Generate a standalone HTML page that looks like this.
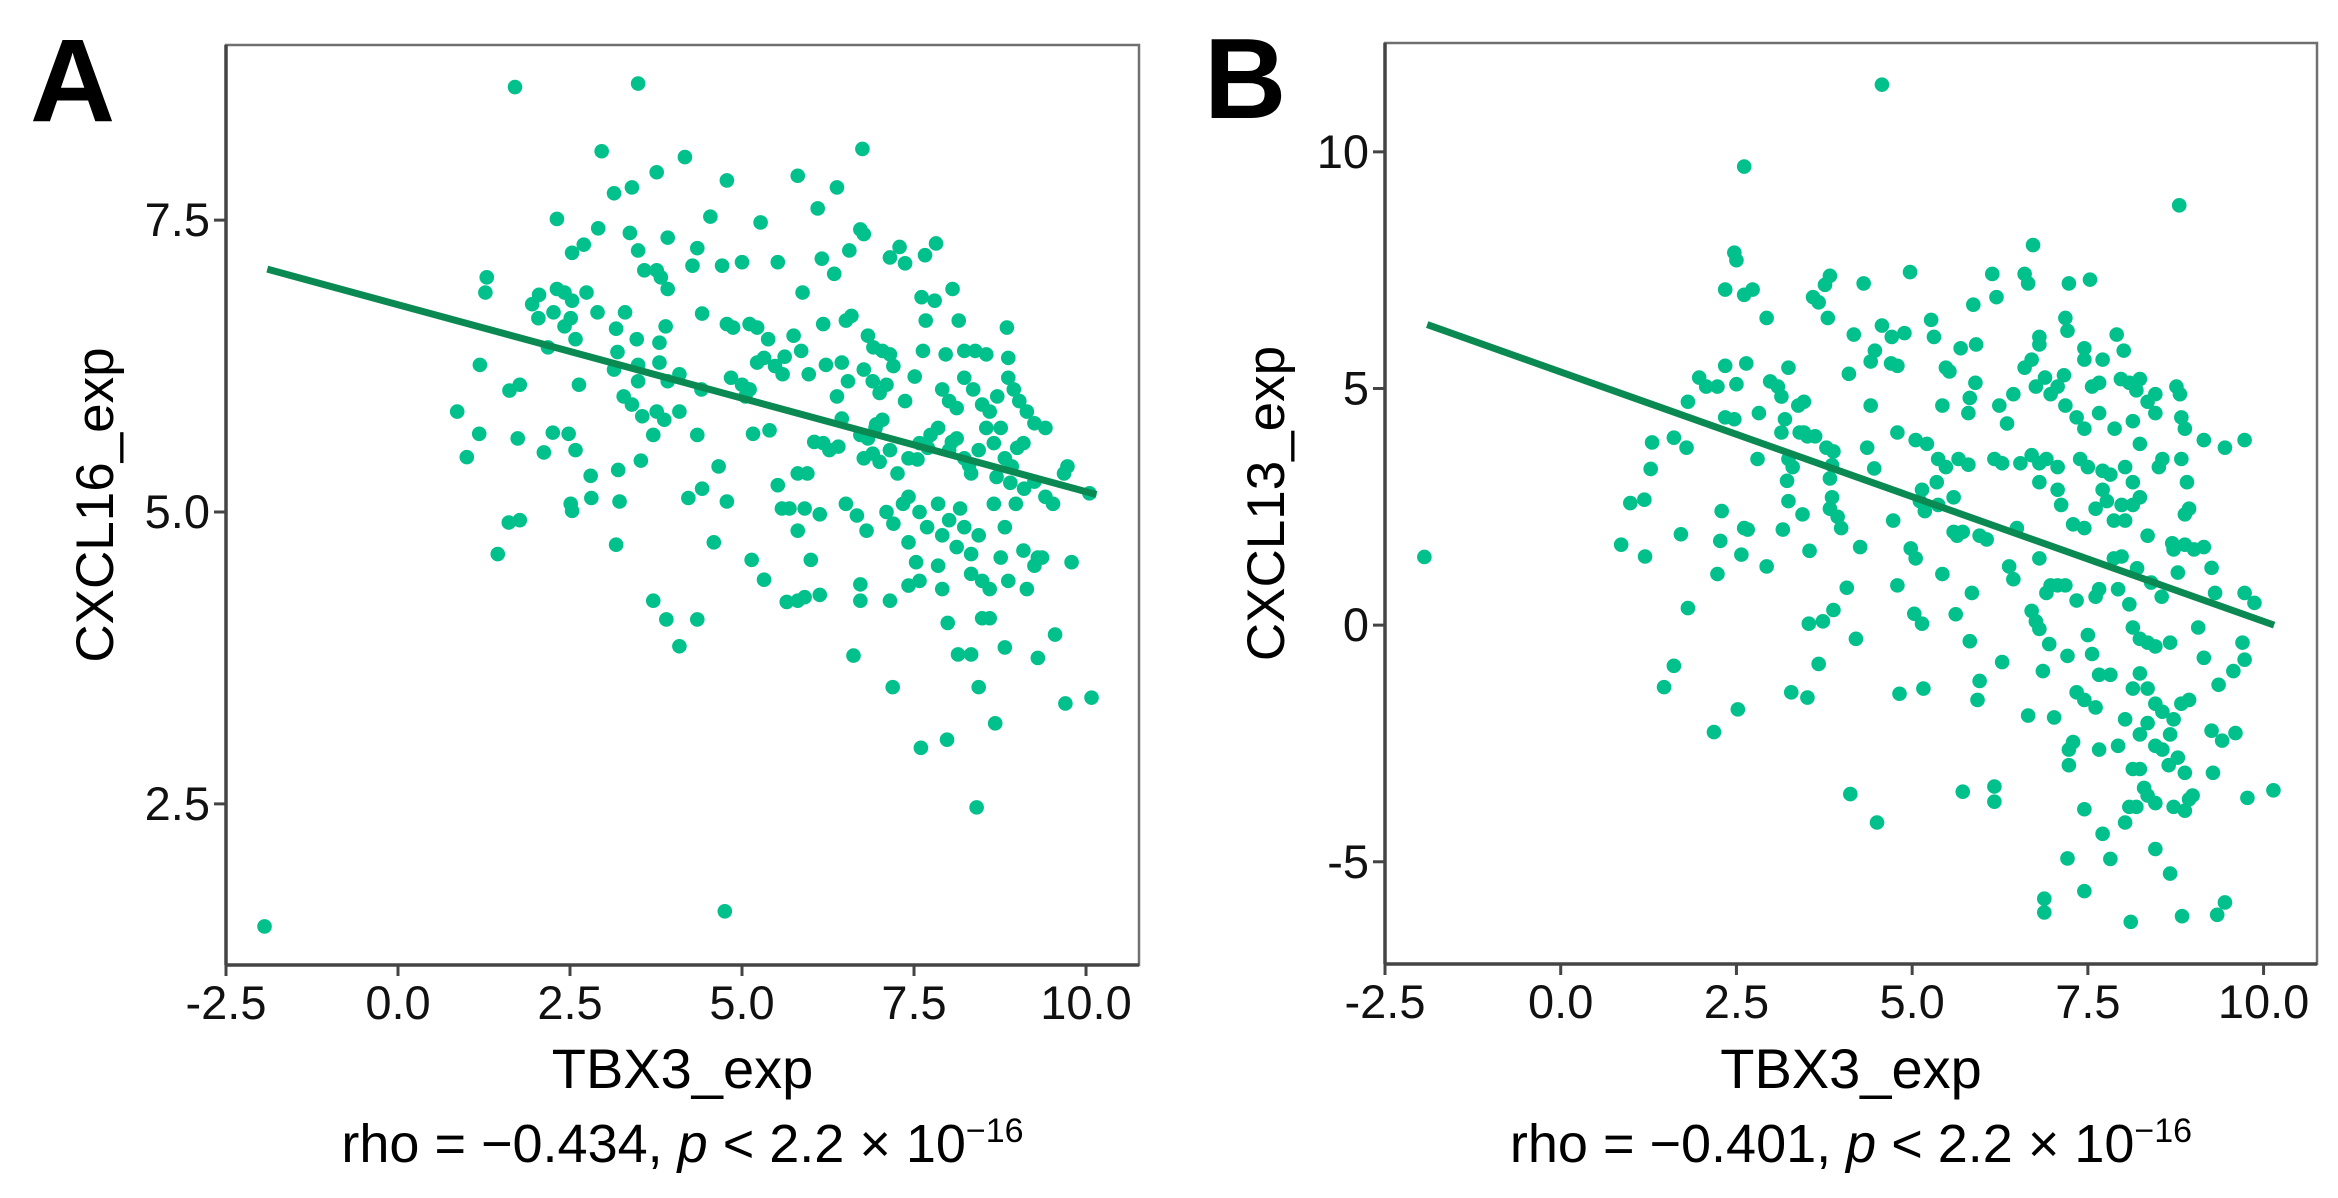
<!DOCTYPE html>
<html><head><meta charset="utf-8"><style>
html,body{margin:0;padding:0;background:#fff;}
svg{display:block;font-family:"Liberation Sans",sans-serif;}
</style></head>
<body>
<svg id="fig" width="2338" height="1198" viewBox="0 0 2338 1198" xmlns="http://www.w3.org/2000/svg">
<rect width="2338" height="1198" fill="#fff"/>
<text x="30" y="121" font-size="118" font-weight="bold" fill="#000" textLength="88">A</text>
<text x="1204" y="118" font-size="114" font-weight="bold" fill="#000" textLength="76">B</text>
<g id="pa"></g>
<g id="pb"></g>
</svg>
<script>
// Panel A data (TBX3_exp vs CXCL16_exp)
const aX = [1.70,3.49,2.96,4.17,3.76,4.78,5.81,6.75,3.14,3.40,6.38,4.54,2.31,5.27,6.10,2.91,3.37,3.92,4.35,3.49,2.53,2.70,6.72,6.77,7.15,7.29,7.66,7.82,7.37,6.56,6.16,5.52,5.00,4.71,4.28,3.58,3.76,3.82,3.92,1.29,1.27,1.95,2.05,2.31,2.42,2.53,2.74,2.26,2.04,2.42,2.51,2.90,3.17,3.30,3.47,3.80,3.89,4.42,4.78,4.87,5.11,5.22,5.38,5.62,5.75,5.88,5.86,6.18,6.34,6.51,6.59,6.83,6.91,7.04,7.15,7.67,7.61,7.80,8.06,8.15,7.63,7.96,8.23,8.39,8.55,8.85,8.87,2.18,2.58,3.19,3.14,3.49,3.80,3.92,4.09,4.41,4.84,5.00,5.11,5.05,5.22,5.32,5.48,5.59,5.97,6.22,6.45,6.54,6.38,6.77,6.90,7.00,7.10,7.20,7.37,7.51,7.91,8.01,8.12,8.23,8.36,8.49,8.60,8.71,8.76,8.87,9.03,9.14,9.25,9.41,2.63,1.62,1.77,1.19,0.86,1.18,1.00,1.74,2.25,2.12,2.48,2.58,2.80,2.81,2.51,2.53,1.61,1.77,1.45,3.20,3.22,3.17,3.28,3.40,3.49,3.55,3.71,3.76,3.87,4.09,3.53,4.35,4.22,4.42,4.66,4.78,4.59,5.16,5.14,5.32,5.52,5.58,5.69,5.91,5.81,5.81,5.95,6.00,6.13,6.18,6.27,6.40,6.51,6.67,6.72,6.83,6.77,6.94,7.04,6.81,6.72,6.72,5.81,5.91,6.13,5.65,7.15,7.10,7.20,7.34,7.00,7.15,7.26,7.42,7.58,7.74,7.85,8.01,8.12,8.23,8.33,8.44,8.55,8.66,8.82,8.92,9.09,9.25,9.41,7.42,7.58,7.69,7.85,7.91,8.01,8.17,8.23,8.44,8.66,8.82,8.98,9.09,9.30,9.52,7.42,7.53,7.85,7.91,8.12,8.33,8.33,8.49,8.60,8.76,8.87,9.14,9.25,9.36,9.79,7.58,7.42,7.99,8.14,8.33,8.49,8.60,8.82,9.30,9.55,6.62,7.19,8.44,8.68,9.70,10.08,7.60,7.98,8.41,4.35,3.71,3.90,4.09,4.75,-1.94,9.73,9.68,10.05,9.00,8.95,6.45,6.95,7.55,8.05,8.70,9.10,5.40,6.05,6.90,7.70,8.30,8.90];
const aY = [8.64,8.67,8.09,8.04,7.91,7.84,7.88,8.11,7.73,7.78,7.78,7.53,7.51,7.48,7.60,7.43,7.39,7.35,7.26,7.24,7.22,7.29,7.42,7.38,7.18,7.27,7.20,7.30,7.13,7.24,7.17,7.14,7.14,7.11,7.11,7.07,7.07,7.01,6.91,7.01,6.88,6.78,6.86,6.91,6.88,6.81,6.88,6.71,6.66,6.59,6.66,6.71,6.57,6.71,6.48,6.45,6.59,6.70,6.61,6.58,6.61,6.58,6.48,6.33,6.51,6.88,6.38,6.61,7.04,6.64,6.68,6.51,6.41,6.38,6.35,6.64,6.84,6.81,6.91,6.64,6.38,6.35,6.38,6.38,6.35,6.58,6.32,6.41,6.48,6.37,6.22,6.26,6.28,6.12,6.18,6.05,6.15,6.09,6.05,5.99,6.28,6.32,6.25,6.18,6.18,6.26,6.28,6.12,5.99,6.22,6.12,6.02,6.09,6.25,5.95,6.16,6.05,5.95,5.89,6.15,6.05,5.92,5.86,5.99,5.72,6.15,5.95,5.86,5.76,5.72,6.09,6.04,6.09,6.26,5.86,5.67,5.47,5.63,5.68,5.51,5.67,5.53,5.31,5.12,5.07,5.01,4.91,4.93,4.64,5.36,5.09,4.72,5.99,5.92,6.12,5.82,5.66,5.86,5.79,5.86,5.44,5.66,5.12,5.20,5.39,5.09,4.74,5.67,4.59,4.42,5.23,5.03,5.03,5.03,4.84,5.33,5.33,4.59,4.98,5.59,5.53,5.56,5.07,4.97,5.66,5.63,5.46,5.72,5.79,4.84,4.38,4.24,4.24,4.27,4.29,4.23,4.24,5.00,4.90,5.07,5.43,5.53,5.33,5.46,5.59,5.66,5.72,5.53,5.63,5.46,5.33,5.53,5.72,5.59,5.46,5.39,5.59,5.26,5.13,5.13,5.00,4.87,5.07,4.80,4.93,5.03,4.87,4.80,5.07,4.87,5.07,4.67,4.61,5.07,4.74,4.57,4.54,4.34,4.70,4.64,4.47,4.41,4.34,4.61,4.41,4.34,4.54,4.61,4.57,4.41,4.37,4.05,3.78,3.78,4.09,4.09,3.84,3.75,3.95,3.77,3.50,3.50,3.19,3.36,3.41,2.98,3.05,2.47,4.08,4.24,4.08,3.85,1.58,1.45,5.39,5.33,5.16,5.55,6.05,5.80,5.75,5.45,5.60,5.30,5.20,5.70,5.60,5.50,5.55,5.40,5.25];
const aLineX = [-1.9, 10.15];
const aLineY = [7.08, 5.15];
const aXTicks = [-2.5, 0.0, 2.5, 5.0, 7.5, 10.0];
const aXTickLabels = ["-2.5","0.0","2.5","5.0","7.5","10.0"];
const aYTicks = [2.5, 5.0, 7.5];
const aYTickLabels = ["2.5","5.0","7.5"];

// Panel B data (TBX3_exp vs CXCL13_exp)
const bX = [4.57,2.61,8.80,6.72,2.47,2.50,2.34,2.61,2.73,3.83,3.76,4.31,4.97,6.14,6.20,6.60,6.65,7.23,7.53,3.59,3.67,2.93,3.80,5.27,5.87,7.18,7.21,4.17,4.71,4.47,4.41,4.57,4.89,5.31,5.69,5.91,6.81,6.81,7.91,8.01,7.45,6.60,6.70,7.45,7.71,2.34,2.64,1.97,2.07,2.23,2.50,2.98,3.09,3.24,3.14,4.10,4.79,4.70,5.53,5.48,5.90,6.44,6.76,6.89,6.97,7.07,7.16,7.56,7.66,7.97,8.09,8.19,8.24,8.35,8.46,8.76,8.81,1.81,2.34,2.47,2.82,3.19,3.38,3.46,4.41,4.79,5.43,5.80,5.82,6.24,6.35,7.18,7.34,7.45,7.66,7.88,8.14,8.24,8.46,8.83,8.88,9.15,9.45,9.73,1.30,1.61,1.79,3.14,3.40,3.46,3.51,3.62,3.78,3.88,4.36,5.05,5.21,2.80,3.24,3.30,3.86,4.46,5.37,5.48,5.66,5.80,6.17,6.28,6.54,6.70,6.81,6.91,7.07,7.39,7.50,7.82,8.03,8.14,8.51,8.56,8.83,8.91,1.28,0.99,1.19,0.86,1.20,1.71,2.29,2.27,2.61,2.66,2.23,2.57,2.93,3.22,3.24,3.16,3.44,3.54,3.83,3.86,3.83,3.94,3.99,4.26,4.07,4.73,4.98,5.05,5.14,5.11,5.18,5.35,5.37,5.59,5.59,5.64,5.72,5.96,6.06,5.43,5.85,5.62,4.79,5.03,5.14,3.88,3.53,3.73,4.20,3.67,3.51,3.28,4.82,5.16,5.96,5.93,5.82,6.28,6.38,6.44,6.49,6.81,6.91,6.97,6.65,6.76,6.81,6.86,7.02,7.07,7.18,7.21,7.23,7.23,7.29,7.34,7.34,7.45,7.50,7.56,7.61,7.66,7.66,7.82,7.61,7.87,7.98,7.93,8.09,8.14,8.24,8.35,8.46,8.67,8.24,8.35,8.46,8.56,8.72,8.83,8.94,8.67,8.78,8.88,8.14,8.03,7.93,8.24,8.35,8.46,8.56,8.14,8.24,8.30,8.35,8.46,8.09,8.19,8.03,8.94,8.88,8.99,8.72,9.15,9.36,9.26,9.41,9.07,9.57,9.73,9.70,9.60,9.28,9.77,10.14,9.73,9.87,9.31,9.26,9.15,9.01,8.70,8.72,8.88,8.94,8.88,8.78,7.66,7.71,7.45,7.21,7.45,6.88,6.88,7.82,8.11,8.46,8.67,8.84,9.34,9.45,8.65,5.72,6.17,6.17,4.12,4.50,2.18,2.52,1.47,1.61,1.81,-1.94,7.71,7.71,7.77,7.98,7.87,7.45,7.61,7.29,7.07,7.12,6.81,8.03,8.14,8.24,8.35,8.20,8.40,8.55,6.70,6.95];
const bY = [11.42,9.69,8.87,8.03,7.87,7.71,7.09,6.98,7.09,7.38,7.19,7.22,7.46,7.42,6.93,7.42,7.22,7.22,7.30,6.93,6.82,6.49,6.49,6.45,6.77,6.49,6.22,6.14,6.09,5.80,5.57,6.33,6.17,6.09,5.85,5.93,6.09,5.93,6.14,5.80,5.85,5.44,5.61,5.61,5.61,5.48,5.53,5.23,5.04,5.04,5.09,5.15,5.04,5.44,4.83,5.31,5.48,5.53,5.36,5.44,5.12,4.88,5.04,5.23,4.88,5.04,5.28,5.04,5.12,5.20,5.12,4.96,5.20,4.72,4.88,5.04,4.88,4.72,4.39,4.35,4.48,4.35,4.64,4.72,4.64,4.07,4.64,4.48,4.80,4.64,4.26,4.64,4.39,4.15,4.48,4.15,4.31,3.83,4.48,4.39,4.15,3.91,3.75,3.91,3.86,3.96,3.75,4.07,4.07,4.07,3.99,3.99,3.75,3.67,3.75,3.91,3.83,3.51,3.51,3.34,3.38,3.31,3.51,3.34,3.51,3.39,3.51,3.42,3.42,3.59,3.42,3.51,3.34,3.51,3.34,3.18,3.34,3.02,3.34,3.51,3.51,3.02,3.30,2.58,2.65,1.70,1.45,1.92,2.41,1.78,2.05,2.02,1.08,1.49,1.24,3.05,2.62,2.02,2.34,1.57,3.10,2.70,2.46,2.29,2.05,1.65,0.79,2.21,1.62,1.41,2.86,2.62,2.41,3.02,2.54,2.70,1.97,1.89,1.97,1.89,1.81,1.08,0.68,0.23,0.84,0.24,0.03,0.32,0.03,0.08,-0.29,-0.82,-1.53,-1.42,-1.45,-1.34,-1.18,-1.58,-0.34,-0.78,1.24,0.97,2.05,1.41,0.68,0.84,-1.91,0.08,-0.08,-0.97,-1.95,0.84,0.84,-0.65,-2.63,-2.96,-2.47,0.52,-1.42,-1.58,-0.21,-0.61,0.60,0.76,-1.05,-1.05,-1.74,1.41,1.45,0.76,0.44,-0.05,-0.29,-0.37,-0.45,-0.37,-1.02,-1.34,-1.66,-1.83,-1.99,-1.66,-1.58,-2.31,-2.80,-3.12,-1.34,-1.99,-2.55,-2.31,-2.07,-2.55,-2.63,-3.04,-3.04,-3.44,-3.60,-3.76,-3.84,-3.84,-4.17,-3.68,-3.92,-3.60,-3.84,-0.69,-1.26,-2.23,-2.44,-0.05,-0.97,-0.73,-0.37,-2.28,-3.12,-3.65,-3.49,0.68,0.47,0.68,1.21,1.65,1.60,1.73,1.60,1.70,2.46,2.34,1.11,-2.63,-4.41,-3.89,-4.93,-5.62,-5.78,-6.07,-4.94,-6.27,-4.73,-5.25,-6.15,-6.12,-5.86,-2.96,-3.52,-3.41,-3.73,-3.57,-4.17,-2.26,-1.78,-1.31,-0.86,0.36,1.44,3.26,2.86,2.62,2.54,2.21,2.05,2.46,2.13,2.86,2.54,3.02,2.21,2.54,2.70,1.89,1.20,0.90,0.60,0.30,-0.40];
const bLineX = [-1.9, 10.15];
const bLineY = [6.35, 0.0];
const bXTicks = [-2.5, 0.0, 2.5, 5.0, 7.5, 10.0];
const bXTickLabels = ["-2.5","0.0","2.5","5.0","7.5","10.0"];
const bYTicks = [-5, 0, 5, 10];
const bYTickLabels = ["-5","0","5","10"];

const NS = "http://www.w3.org/2000/svg";
function mk(tag, attrs, parent){
  const e = document.createElementNS(NS, tag);
  for (const k in attrs) e.setAttribute(k, attrs[k]);
  parent.appendChild(e);
  return e;
}
function drawPanel(g, cfg){
  const {x0,x1,y0,y1,xmin,xmax,ymin,ymax} = cfg;
  const sx = v => x0 + (v - xmin) / (xmax - xmin) * (x1 - x0);
  const sy = v => y1 - (v - ymin) / (ymax - ymin) * (y1 - y0);
  const box = mk('rect', {x:x0, y:y0, width:x1-x0, height:y1-y0, fill:'none', stroke:'#707070', 'stroke-width':2.5}, g);
  
  
  const pg = mk('g', {}, g);
  
  
  for (let i = 0; i < cfg.xs.length; i++){
    const c = mk('circle', {cx:sx(cfg.xs[i]), cy:sy(cfg.ys[i]), r:7.3, fill:'#00c08b'}, pg);
    
    
  }
  const ln = mk('line', {x1:sx(cfg.lx[0]), y1:sy(cfg.ly[0]), x2:sx(cfg.lx[1]), y2:sy(cfg.ly[1]), stroke:'#0a8a52', 'stroke-width':7, 'stroke-linecap':'butt'}, g);
  
  
  const xa = mk('line', {x1:x0, y1:y1, x2:x1, y2:y1, stroke:'#444', 'stroke-width':3.5}, g);
  
  
  const ya = mk('line', {x1:x0, y1:y0, x2:x0, y2:y1, stroke:'#444', 'stroke-width':3.5}, g);
  
  
  cfg.xt.forEach((v, i) => {
    const t = mk('line', {x1:sx(v), y1:y1, x2:sx(v), y2:y1+11, stroke:'#444', 'stroke-width':3}, g);
    
    
    const l = mk('text', {x:sx(v), y:y1+54, 'font-size':47, 'text-anchor':'middle', fill:'#111'}, g);
    
    
    l.textContent = cfg.xtl[i];
  });
  cfg.yt.forEach((v, i) => {
    const t = mk('line', {x1:x0-12, y1:sy(v), x2:x0, y2:sy(v), stroke:'#444', 'stroke-width':3}, g);
    
    
    const l = mk('text', {x:x0-16, y:sy(v)+16, 'font-size':47, 'text-anchor':'end', fill:'#111'}, g);
    
    
    l.textContent = cfg.ytl[i];
  });
  const cx = (x0 + x1) / 2;
  const xt = mk('text', {x:cx, y:1088, 'font-size':56, 'text-anchor':'middle', fill:'#000'}, g);
  
  
  xt.textContent = 'TBX3_exp';
  const yt = mk('text', {x:0, y:0, 'font-size':53, 'text-anchor':'middle', fill:'#000', transform:'translate(' + (cfg.ytx) + ',' + ((y0+y1)/2) + ') rotate(-90)'}, g);
  
  
  yt.textContent = cfg.ytitle;
  const st = mk('text', {x:cx, y:1162, 'font-size':54, 'text-anchor':'middle', fill:'#000'}, g);
  
  
  st.innerHTML = 'rho = \u2212' + cfg.rho + ', <tspan font-style="italic">p</tspan> &lt; 2.2 \u00d7 10<tspan dy="-20" font-size="34">\u221216</tspan>';
}
drawPanel(document.getElementById('pa'), {x0:226,x1:1139,y0:45,y1:965,xmin:-2.5,xmax:10.77,ymin:1.12,ymax:9.0,
  xs:aX, ys:aY, lx:aLineX, ly:aLineY, xt:aXTicks, xtl:aXTickLabels, yt:aYTicks, ytl:aYTickLabels, ytx:113, ytitle:'CXCL16_exp', rho:'0.434'});
drawPanel(document.getElementById('pb'), {x0:1385,x1:2317,y0:43,y1:964,xmin:-2.5,xmax:10.76,ymin:-7.16,ymax:12.3,
  xs:bX, ys:bY, lx:bLineX, ly:bLineY, xt:bXTicks, xtl:bXTickLabels, yt:bYTicks, ytl:bYTickLabels, ytx:1284, ytitle:'CXCL13_exp', rho:'0.401'});
</script>
</body></html>
